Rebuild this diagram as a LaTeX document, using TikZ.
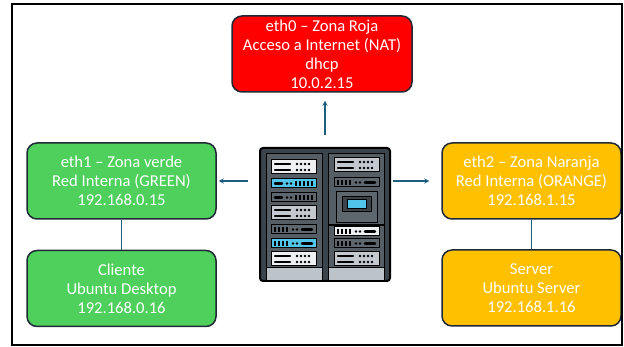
\documentclass[tikz,border=0pt]{standalone}
\usepackage{fontspec}
\setmainfont{Carlito}
\usetikzlibrary{arrows.meta}

\definecolor{rojo}{HTML}{FF0000}
\definecolor{verde}{HTML}{4FCF5C}
\definecolor{naranja}{HTML}{FFC000}
\definecolor{borde}{HTML}{1F2A36}
\definecolor{flecha}{HTML}{1E5E7E}
\definecolor{rackdark}{HTML}{3C444B}
\definecolor{rackmid}{HTML}{565E65}
\definecolor{racklight}{HTML}{BCC3C9}
\definecolor{slotwhite}{HTML}{EEF0F2}
\definecolor{slotgray}{HTML}{C3C9CE}
\definecolor{slotdark}{HTML}{5F676E}
\definecolor{slotcyan}{HTML}{52C6EA}

% rack units: #1,#2 = top left corner, #3 = fill
\newcommand{\tallslot}[3]{%
  \draw[slotdecorate,fill=#3] (#1,#2) rectangle (#1+45,#2+14);
  \draw[line width=2.5pt,line cap=round] (#1+4,#2+4) -- (#1+19,#2+4) (#1+4,#2+10) -- (#1+19,#2+10);
  \foreach \i in {0,...,3} {
    \fill (#1+26+4*\i,#2+4) circle (1.3pt) (#1+26+4*\i,#2+10) circle (1.3pt);
  }}
\newcommand{\thinslota}[3]{%
  \draw[slotdecorate,fill=#3] (#1,#2) rectangle (#1+45,#2+9);
  \draw[line width=2.5pt,line cap=round] (#1+4,#2+4.5) -- (#1+11,#2+4.5);
  \fill (#1+16,#2+4.5) circle (1.3pt) (#1+20,#2+4.5) circle (1.3pt);
  \foreach \i in {0,...,4} {
    \draw[line width=2pt] (#1+25+4*\i,#2+2) -- (#1+25+4*\i,#2+7);
  }}
\newcommand{\thinslotb}[3]{%
  \draw[slotdecorate,fill=#3] (#1,#2) rectangle (#1+45,#2+9);
  \foreach \i in {0,...,3} {
    \draw[line width=2pt] (#1+4+4*\i,#2+2) -- (#1+4+4*\i,#2+7);
  }
  \fill (#1+22,#2+4.5) circle (1.3pt) (#1+26,#2+4.5) circle (1.3pt);
  \draw[line width=2.5pt,line cap=round] (#1+31,#2+4.5) -- (#1+41,#2+4.5);}

\begin{document}
\begin{tikzpicture}[x=1pt,y=-1pt,
  zonebox/.style={shape=rectangle,rounded corners=10pt,draw=borde,line width=1.5pt,
    text=white,align=center,font=\fontsize{16.6}{19}\selectfont,
    minimum width=180pt,minimum height=76pt,inner sep=0pt},
  arrowdecorate/.style={-{Stealth[length=5pt,width=5pt]},draw=flecha,line width=1.5pt},
  linedecorate/.style={-,draw=flecha,line width=1.5pt},
  slotdecorate/.style={draw=black,line width=1pt}]
\useasboundingbox (0,0) rectangle (624,347);
%%% zones
% nodes
\node (roja) at (322,54) [zonebox,fill=rojo]
  {eth0 – Zona Roja\\Acceso a Internet (NAT)\\dhcp\\10.0.2.15};
\node (verde) at (121.5,181) [zonebox,fill=verde,minimum width=189pt]
  {eth1 – Zona verde\\Red Interna (GREEN)\\192.168.0.15};
\node (cliente) at (121.5,288.5) [zonebox,fill=verde,minimum width=189pt]
  {Cliente\\Ubuntu Desktop\\192.168.0.16};
\node (naranja) at (531.5,181) [zonebox,fill=naranja,minimum width=179pt]
  {eth2 – Zona Naranja\\Red Interna (ORANGE)\\192.168.1.15};
\node (server) at (531.5,288) [zonebox,fill=naranja,minimum width=179pt]
  {Server\\Ubuntu Server\\192.168.1.16};
\node (rack) at (325,214.5) [minimum width=130pt,minimum height=133pt,inner sep=0pt] {};
%%% firewall rack
% housing
\draw[fill=rackdark,line width=2pt,rounded corners=3pt] (260,148) rectangle (390,281);
\draw[slotdecorate,fill=rackmid] (266,154) rectangle (322,281);
\draw[slotdecorate,fill=rackmid] (328,154) rectangle (384,281);
\draw[slotdecorate,fill=racklight] (266,268) rectangle (322,281);
\draw[slotdecorate,fill=racklight] (328,268) rectangle (384,281);
% left column
\tallslot{271}{160}{slotwhite}
\thinslota{271}{179}{slotcyan}
\thinslota{271}{193}{slotdark}
\tallslot{271}{206}{slotgray}
\thinslotb{271}{225}{slotdark}
\thinslotb{271}{239}{slotcyan}
\tallslot{271}{252}{slotwhite}
% right column
\tallslot{334}{158}{slotgray}
\thinslotb{334}{178}{slotdark}
\draw[slotdecorate,fill=slotdark] (336,192) rectangle (377,223);
\draw[slotdecorate,fill=rackdark] (342,197) rectangle (371,212);
\draw[slotdecorate,fill=slotcyan] (347,200) rectangle (366,209);
\draw[line width=1.5pt] (328,225) -- (384,225);
\thinslotb{334}{227}{slotwhite}
\thinslotb{334}{239}{slotdark}
\tallslot{334}{252}{slotgray}
% edges or lines
\path
(rack.north) edge[arrowdecorate,shorten <=13pt,shorten >=8pt] (rack.north |- roja.south)
(rack.west |- verde.east) edge[arrowdecorate,shorten <=12pt,shorten >=2pt] (verde.east)
(rack.east |- naranja.west) edge[arrowdecorate,shorten <=3pt,shorten >=12pt] (naranja.west)
(verde) edge[linedecorate] (cliente)
(naranja) edge[linedecorate] (server);
% frame
\draw[line width=2pt] (12,4) rectangle (622,345);
\end{tikzpicture}
\end{document}
